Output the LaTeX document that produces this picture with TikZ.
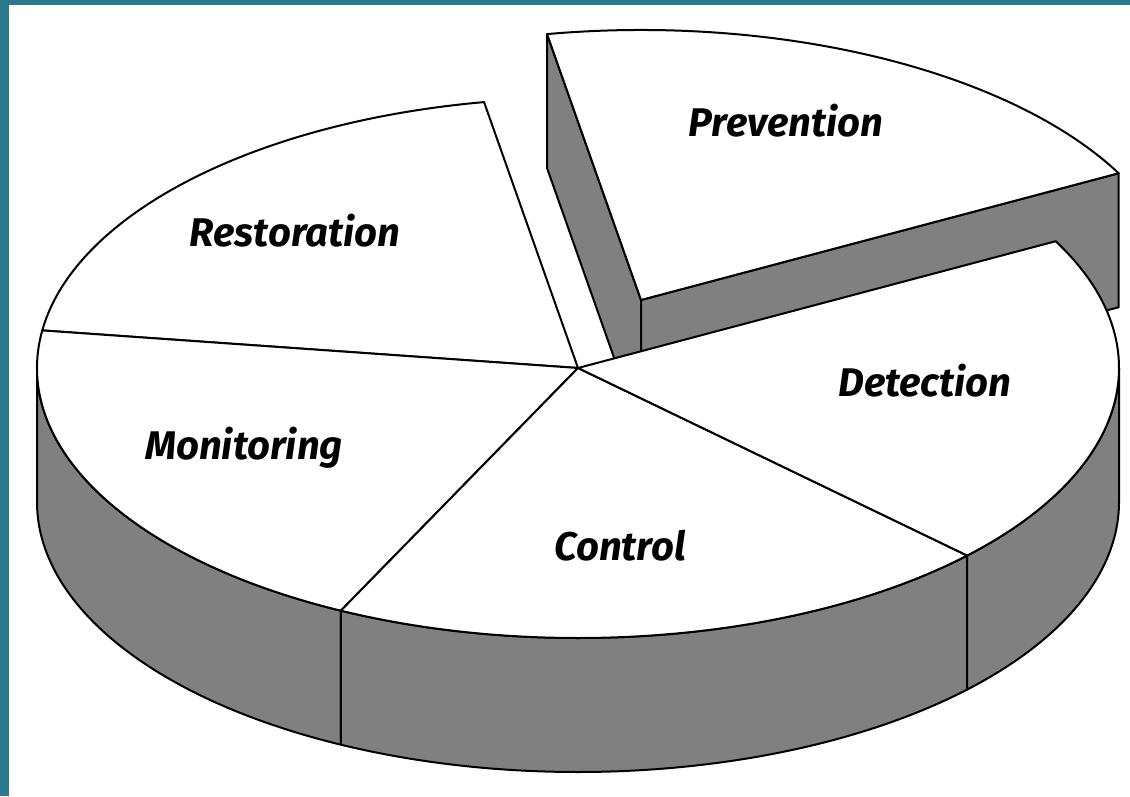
\documentclass[tikz,border=0pt]{standalone}
\usepackage{fontspec}
\newfontfamily\lblfont{Fira Sans}
\usetikzlibrary{calc}
\definecolor{frame}{RGB}{42,122,142}
\definecolor{sidegray}{RGB}{128,128,128}
\tikzset{
  x=1pt, y=1pt,
  outline/.style={draw=black, line width=2pt, line join=round},
  topface/.style={outline, fill=white},
  sideface/.style={outline, fill=sidegray},
  ell/.style={x radius=541, y radius=270},
  lbl/.style={font=\lblfont\bfseries\itshape\fontsize{40}{40}\selectfont, anchor=base, inner sep=0pt}
}
\begin{document}
\begin{tikzpicture}
\useasboundingbox (0,0) rectangle (1130,796);
\fill[white] (0,0) rectangle (1130,796);
% frame
\fill[frame] (0,791) rectangle (1130,796);
\fill[frame] (0,0) rectangle (9,796);
% centres
\coordinate (C) at (578,428);
\coordinate (P) at (641,496);
% ---- exploded slice: Prevention ----
\filldraw[sideface] (P) -- ($(P)+(100:541 and 270)$) -- ++(0,-134) -- ($(P)+(0,-134)$) -- cycle;
\filldraw[sideface] (P) -- ($(P)+(28:541 and 270)$) -- ++(0,-134) -- ($(P)+(0,-134)$) -- cycle;
\filldraw[topface] (P) -- ($(P)+(28:541 and 270)$) arc[ell, start angle=28, end angle=100] -- cycle;
% ---- main pie sides ----
\filldraw[sideface] ($(C)+(180:541 and 270)$) arc[ell, start angle=180, end angle=244] -- ++(0,-134) arc[ell, start angle=244, end angle=180] -- cycle;
\filldraw[sideface] ($(C)+(244:541 and 270)$) arc[ell, start angle=244, end angle=316] -- ++(0,-134) arc[ell, start angle=316, end angle=244] -- cycle;
\filldraw[sideface] ($(C)+(316:541 and 270)$) arc[ell, start angle=316, end angle=360] -- ++(0,-134) arc[ell, start angle=360, end angle=316] -- cycle;
% ---- main pie tops ----
\filldraw[topface] (C) -- ($(C)+(100:541 and 270)$) arc[ell, start angle=100, end angle=172] -- cycle;
\filldraw[topface] (C) -- ($(C)+(172:541 and 270)$) arc[ell, start angle=172, end angle=244] -- cycle;
\filldraw[topface] (C) -- ($(C)+(244:541 and 270)$) arc[ell, start angle=244, end angle=316] -- cycle;
\filldraw[topface] (C) -- ($(C)+(316:541 and 270)$) arc[ell, start angle=316, end angle=388] -- cycle;
% ---- labels ----
\node[lbl] (prev) at (786,659) {Prevention};
\node[lbl] (rest) at (295,549) {Restoration};
\node[lbl] (moni) at (244,336) {Monitoring};
\node[lbl] (dete) at (925,399) {Detection};
\node[lbl] (cont) at (620,236) {Control};
\end{tikzpicture}
\end{document}
